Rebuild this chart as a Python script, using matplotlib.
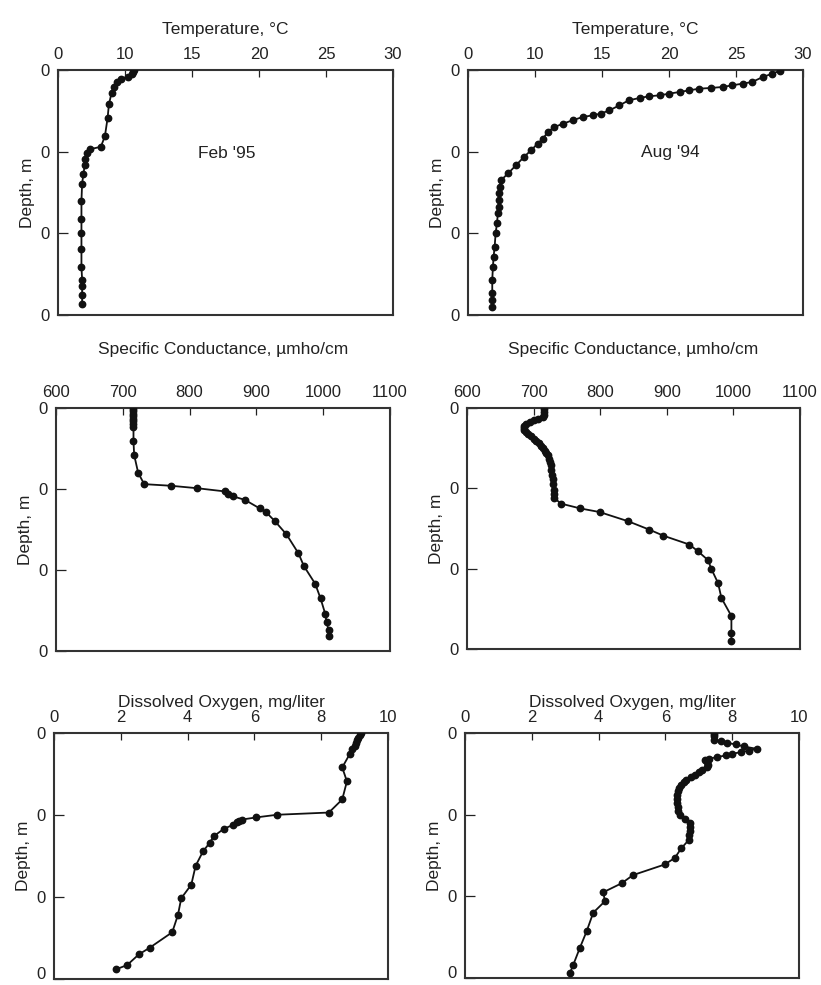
import matplotlib
matplotlib.use("Agg")
import matplotlib.pyplot as plt
import matplotlib.transforms as mtransforms

plt.rcParams['font.family'] = ['Liberation Sans', 'DejaVu Sans']

# ---------------- data ----------------
feb_temp_depth = [0.05, 0.3, 0.5, 0.8, 1.1, 1.5, 2.1, 2.8, 4.2, 5.9, 8.1, 9.4, 9.7, 10.2, 10.9,
                  11.6, 12.7, 13.9, 16.0, 18.2, 20.0, 21.9, 24.1, 25.7, 26.5, 27.6, 28.6]
feb_temp = [10.7, 10.6, 10.5, 10.2, 9.7, 9.4, 9.2, 9.0, 8.8, 8.7, 8.5, 8.2, 7.4, 7.2, 7.0,
            7.0, 6.9, 6.8, 6.75, 6.75, 6.75, 6.75, 6.75, 6.8, 6.8, 6.8, 6.8]

aug_temp_depth = [0.08, 0.45, 0.86, 1.47, 1.67, 1.88, 2.08, 2.2, 2.29, 2.49, 2.69, 2.9, 3.1, 3.22,
                  3.43, 3.71, 4.33, 4.94, 5.35, 5.55, 5.76, 6.16, 6.57, 6.98, 7.59, 8.41, 9.02,
                  9.84, 10.61, 11.63, 12.65, 13.47, 14.29, 15.1, 15.92, 16.73, 17.55, 18.78,
                  20.0, 21.63, 22.86, 24.08, 25.71, 27.35, 28.16, 28.98]
aug_temp = [28.3, 27.7, 27.0, 26.2, 25.5, 24.7, 24.0, 23.1, 22.25, 21.5, 20.8, 20.0, 19.3, 18.5,
            17.8, 17.0, 16.3, 15.55, 14.9, 14.3, 13.55, 12.8, 12.1, 11.45, 10.95, 10.6, 10.2,
            9.7, 9.2, 8.6, 8.0, 7.48, 7.36, 7.31, 7.28, 7.28, 7.23, 7.16, 7.06, 6.99, 6.91,
            6.86, 6.81, 6.81, 6.81, 6.81]

feb_cond_depth = [0.1, 0.4, 0.7, 1.0, 1.3, 1.65, 2.0, 2.3, 4.1, 5.8, 8.0, 9.4, 9.6, 9.9, 10.3,
                  10.6, 10.9, 11.35, 12.4, 12.9, 14.0, 15.6, 17.95, 19.5, 21.7, 23.5, 25.4,
                  26.4, 27.45, 28.2]
feb_cond = [716, 716, 716, 716, 716, 716, 716, 716, 716, 717, 723, 732, 772, 811, 853,
            858, 865, 883, 905, 915, 928, 945, 963, 971, 988, 996, 1003, 1005, 1008, 1009]

aug_cond_depth = [0.1, 0.5, 0.9, 1.15, 1.35, 1.55, 1.75, 2.0, 2.2, 2.45, 2.7, 2.95, 3.2, 3.5,
                  3.8, 4.1, 4.4, 4.7, 5.0, 5.3, 5.6, 5.9, 6.3, 6.7, 7.1, 7.7, 8.3, 8.9, 9.5,
                  10.2, 10.7, 11.2, 11.9, 12.5, 12.95, 14.1, 15.15, 15.9, 17.0, 17.85, 18.95,
                  20.05, 21.8, 23.65, 25.9, 28.0, 29.05]
aug_cond = [716, 716, 716, 714, 707, 700, 694, 688, 685, 685, 686, 689, 692, 696,
            700, 704, 708, 711, 714, 717, 719, 721, 723, 724.5, 725.5, 726.5, 727.5, 728.5, 729,
            730, 730.5, 731, 741, 770, 799, 842, 874, 895, 934, 947, 962,
            967, 977, 982, 997, 997, 997]

feb_do_depth = [0.05, 0.3, 0.6, 0.9, 1.2, 1.6, 2.0, 2.6, 4.2, 5.9, 8.1, 9.7, 9.97, 10.3, 10.55,
                10.75, 10.9, 11.2, 11.7, 12.6, 13.4, 14.45, 16.2, 18.5, 20.15, 22.2, 24.3,
                26.2, 27.0, 28.3, 28.8]
feb_do = [9.2, 9.15, 9.1, 9.07, 9.03, 9.0, 8.93, 8.85, 8.63, 8.77, 8.63, 8.23, 6.68, 6.04, 5.64,
          5.55, 5.48, 5.36, 5.08, 4.78, 4.66, 4.46, 4.24, 4.11, 3.81, 3.71, 3.54,
          2.86, 2.54, 2.19, 1.87]

aug_do_depth = [0.1, 0.4, 0.8, 1.0, 1.2, 1.4, 1.65, 1.95, 2.15, 2.35, 2.55, 2.75, 2.95, 3.15,
                3.3, 3.6, 3.9, 4.2, 4.5, 4.8, 5.1, 5.4, 5.7, 6.0, 6.35, 6.7, 7.1, 7.6, 8.1,
                8.6, 9.1, 9.5, 10.0, 10.5, 11.0, 11.5, 12.0, 12.5, 13.05, 14.1, 15.3, 16.1,
                17.4, 18.4, 19.5, 20.6, 22.0, 24.3, 26.3, 28.4, 29.4]
aug_do = [7.45, 7.45, 7.45, 7.65, 7.85, 8.1, 8.35, 8.75, 8.5, 8.25, 8.0, 7.8, 7.55, 7.3,
          7.2, 7.25, 7.28, 7.25, 7.1, 7.0, 6.9, 6.78, 6.63, 6.55, 6.47, 6.42, 6.38, 6.36, 6.35,
          6.35, 6.37, 6.39, 6.43, 6.58, 6.73, 6.74, 6.73, 6.72, 6.71, 6.48, 6.28, 5.98,
          5.03, 4.69, 4.14, 4.19, 3.84, 3.64, 3.44, 3.24, 3.14]

temp_ticks = [5, 10, 15, 20, 25, 30]
temp_ticklabels = ['0', '10', '15', '20', '25', '30']
cond_ticks = [600, 700, 800, 900, 1000, 1100]
cond_ticklabels = ['600', '700', '800', '900', '1000', '1100']
do_ticks = [0, 2, 4, 6, 8, 10]
do_ticklabels = ['0', '2', '4', '6', '8', '10']
depth_ticks = [0, 10, 20, 30]
depth_ticklabels = ['0', '0', '0', '0']

titles = ['Temperature, °C', 'Temperature, °C',
          'Specific Conductance, µmho/cm', 'Specific Conductance, µmho/cm',
          'Dissolved Oxygen, mg/liter', 'Dissolved Oxygen, mg/liter']

# ---------------- figure ----------------
W, H = 821, 985
fig = plt.figure(figsize=(W / 100, H / 100), dpi=100)

# pixel boxes (left, top, right, bottom)
boxes = [(58, 70, 393, 315), (468, 70, 803, 315),
         (56, 408, 390, 651), (467, 408, 800, 649),
         (54, 733, 388, 979), (465, 733, 799, 978)]

series = [(feb_temp, feb_temp_depth), (aug_temp, aug_temp_depth),
          (feb_cond, feb_cond_depth), (aug_cond, aug_cond_depth),
          (feb_do, feb_do_depth), (aug_do, aug_do_depth)]
xlims = [(5, 30), (5, 30), (600, 1100), (600, 1100), (0, 10), (0, 10)]
xticks = [temp_ticks, temp_ticks, cond_ticks, cond_ticks, do_ticks, do_ticks]
xticklabels = [temp_ticklabels, temp_ticklabels, cond_ticklabels, cond_ticklabels,
               do_ticklabels, do_ticklabels]
labelpads = [9, 9, 22, 22, 2, 2]

ink = '#111111'
for i, (l, t, r, b) in enumerate(boxes):
    ax = fig.add_axes([l / W, 1 - b / H, (r - l) / W, (b - t) / H])
    x, d = series[i]
    ax.plot(x, d, color=ink, lw=1.3, marker='o', ms=4.6, mfc=ink, mec=ink, zorder=3)
    ax.set_xlim(*xlims[i])
    ax.set_ylim(30, 0)
    ax.xaxis.tick_top()
    ax.xaxis.set_label_position('top')
    ax.set_xticks(xticks[i])
    ax.set_xticklabels(xticklabels[i])
    ax.set_yticks(depth_ticks)
    ax.set_yticklabels(depth_ticklabels)
    ax.tick_params(axis='x', direction='in', length=5, width=0.9, pad=6,
                   labelsize=12, colors='#222222')
    ax.tick_params(axis='y', direction='in', length=7, width=0.9, pad=6,
                   labelsize=12, colors='#222222')
    ax.set_xlabel(titles[i], fontsize=12.5, labelpad=labelpads[i], color='#222222')
    ax.set_ylabel('Depth, m', fontsize=12.5, labelpad=4, color='#222222')
    for s in ax.spines.values():
        s.set_color('#333333')
        s.set_linewidth(1.5)
    if i >= 4:
        # keep the bottom-most depth label inside the canvas
        last = ax.get_yticklabels()[-1]
        last.set_transform(last.get_transform() +
                           mtransforms.ScaledTranslation(0, 4 / 72, fig.dpi_scale_trans))
    if i == 0:
        ax.text(0.505, 0.66, "Feb '95", transform=ax.transAxes, ha='center', va='center',
                fontsize=12.5, color='#222222')
    if i == 1:
        ax.text(0.603, 0.665, "Aug '94", transform=ax.transAxes, ha='center', va='center',
                fontsize=12.5, color='#222222')

fig.savefig('out.png', dpi=100)
